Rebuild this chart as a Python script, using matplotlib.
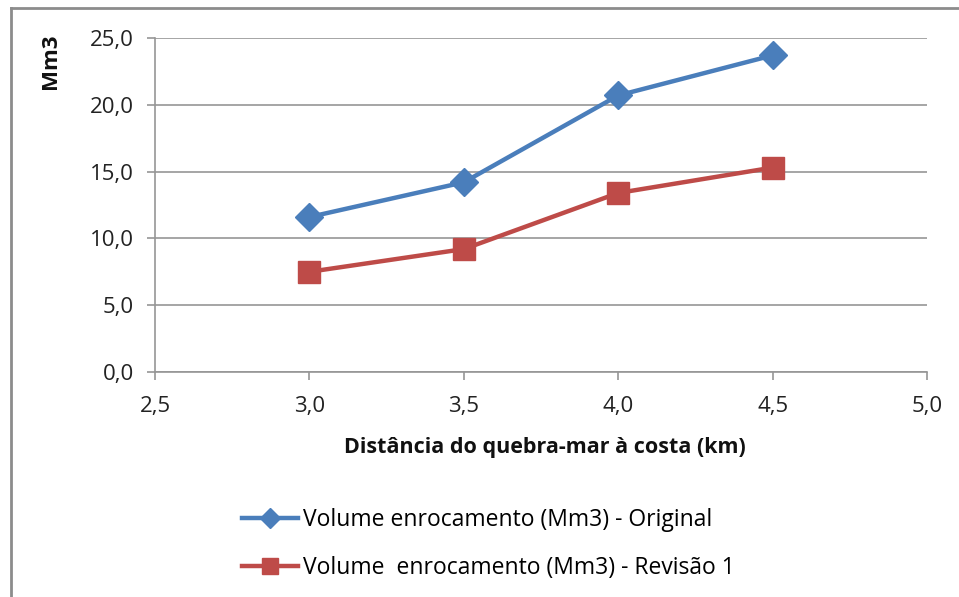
import matplotlib
matplotlib.use("Agg")
import matplotlib.pyplot as plt
from matplotlib.lines import Line2D
from matplotlib.ticker import FuncFormatter, MultipleLocator

distancia_km = [3.0, 3.5, 4.0, 4.5]
volume_original = [11.6, 14.2, 20.7, 23.7]
volume_revisao1 = [7.5, 9.2, 13.4, 15.3]
label_original = "Volume enrocamento (Mm3) - Original"
label_revisao1 = "Volume  enrocamento (Mm3) - Revisão 1"
x_title = "Distância do quebra-mar à costa (km)"
y_title = "Mm3"

plt.rcParams["font.family"] = ["Open Sans", "DejaVu Sans"]

W, H = 959, 597
fig = plt.figure(figsize=(W / 100, H / 100), dpi=100)
fig.patch.set_facecolor("white")

ax = fig.add_axes([155 / W, 1 - 372 / H, (927 - 155) / W, (372 - 38) / H])

blue = "#4A7EBB"
red = "#BE4B48"
grid_c = "#969696"

ax.plot(distancia_km, volume_original, color=blue, lw=3.2, marker="D",
        markersize=14, markeredgecolor=blue, label=label_original, zorder=3)
ax.plot(distancia_km, volume_revisao1, color=red, lw=3.2, marker="s",
        markersize=16, markeredgecolor=red, label=label_revisao1, zorder=3)

ax.set_xlim(2.5, 5.0)
ax.set_ylim(0, 25)
ax.xaxis.set_major_locator(MultipleLocator(0.5))
ax.yaxis.set_major_locator(MultipleLocator(5))
fmt = FuncFormatter(lambda v, p: f"{v:.1f}".replace(".", ","))
ax.xaxis.set_major_formatter(fmt)
ax.yaxis.set_major_formatter(fmt)

ax.grid(axis="y", color=grid_c, lw=1.2)
ax.set_axisbelow(True)
for s in ["top", "right"]:
    ax.spines[s].set_visible(False)
for s in ["left", "bottom"]:
    ax.spines[s].set_color(grid_c)
    ax.spines[s].set_linewidth(1.2)
ax.tick_params(axis="both", direction="out", length=6, width=1.2,
               color=grid_c, labelsize=16, labelcolor="#222222")
ax.tick_params(axis="x", pad=11)
ax.tick_params(axis="y", pad=9)

fig.text(545 / W, 1 - 447 / H, x_title, ha="center", va="center",
         fontsize=15.5, fontweight="bold", color="#111111")
fig.text(50 / W, 1 - 61 / H, y_title, ha="center", va="center",
         rotation=90, fontsize=16, fontweight="bold", color="#111111")

handles = [
    Line2D([], [], color=blue, lw=3.2, marker="D", markersize=10,
           markeredgecolor=blue),
    Line2D([], [], color=red, lw=3.2, marker="s", markersize=12,
           markeredgecolor=red),
]
fig.legend(handles, [label_original, label_revisao1], loc="center left",
           bbox_to_anchor=(242 / W, 1 - 544 / H), frameon=False,
           fontsize=16.5, handlelength=2.45, handletextpad=0.2,
           labelspacing=1.05, borderaxespad=0, borderpad=0)

# chart frame (top and left edges)
fig.add_artist(Line2D([11 / W, 11 / W], [0, 1 - 8 / H],
                      transform=fig.transFigure, color="#8c8c8c", lw=2))
fig.add_artist(Line2D([11 / W, 1], [1 - 8 / H, 1 - 8 / H],
                      transform=fig.transFigure, color="#8c8c8c", lw=2))

fig.savefig("out.png", dpi=100, facecolor="white")
